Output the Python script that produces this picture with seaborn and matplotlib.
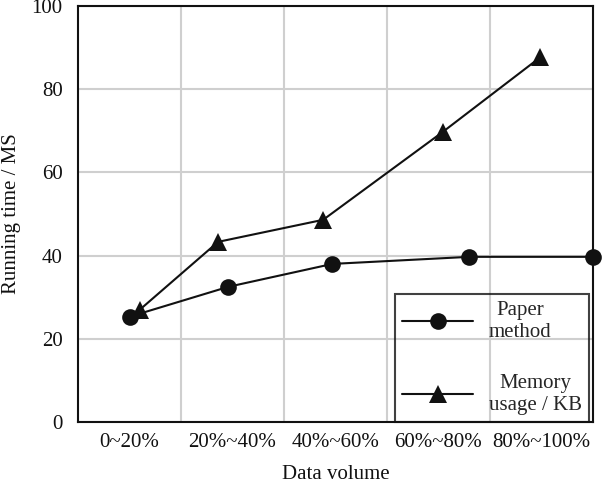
import numpy as np
import pandas as pd
import matplotlib
matplotlib.use("Agg")
import matplotlib.pyplot as plt
import seaborn as sns

# --- Data ---
categories = ["0~20%", "20%~40%", "40%~60%", "60%~80%", "80%~100%"]
paper_x = [0.50, 1.46, 2.47, 3.80, 5.00]
paper_y = [25.3, 32.5, 38.0, 39.7, 39.7]
memory_x = [0.60, 1.36, 2.38, 3.54, 4.49]
memory_y = [27.0, 43.3, 48.6, 69.7, 87.7]

sns.set_theme(style="white")
plt.rcParams["font.family"] = ["Liberation Serif", "DejaVu Serif"]

fig = plt.figure(figsize=(6.11, 4.86), dpi=100)
ax = fig.add_axes([0.1277, 0.1317, 0.8428, 0.856])

paper = pd.DataFrame({"x": paper_x, "y": paper_y})
memory = pd.DataFrame({"x": memory_x, "y": memory_y})

sns.lineplot(data=paper, x="x", y="y", ax=ax, color="#111111", marker="o",
             markersize=12, linewidth=1.5, markeredgewidth=0,
             label="Paper\nmethod", clip_on=False, zorder=5)
sns.lineplot(data=memory, x="x", y="y", ax=ax, color="#111111", marker="^",
             markersize=13, linewidth=1.5, markeredgewidth=0,
             label="Memory\nusage / KB", clip_on=False, zorder=5)

ax.set_xlim(0, 5)
ax.set_ylim(0, 100)
ax.set_xticks(np.arange(len(categories)) + 0.5)
ax.set_xticklabels(categories)
ax.set_xticks(np.arange(1, len(categories)), minor=True)
ax.set_yticks([0, 20, 40, 60, 80, 100])
ax.tick_params(axis="both", which="both", length=0, labelsize=15, colors="#111111")
ax.tick_params(axis="x", pad=8)
ax.tick_params(axis="y", pad=11)

ax.grid(False)
ax.xaxis.grid(True, which="minor", color="#cfcfcf", linewidth=1.5)
ax.yaxis.grid(True, which="major", color="#cfcfcf", linewidth=1.5)
ax.set_axisbelow(True)

for s in ax.spines.values():
    s.set_color("#111111")
    s.set_linewidth(1.5)

ax.set_xlabel("Data volume", fontsize=15, color="#111111", labelpad=9)
ax.set_ylabel("Running time / MS", fontsize=15, color="#111111", labelpad=8)

leg = ax.legend(loc="lower right", bbox_to_anchor=(0.992, 0.0),
                borderaxespad=0, frameon=True, fancybox=False,
                facecolor="none", edgecolor="#111111", fontsize=15,
                handlelength=3.4, labelspacing=1.55, borderpad=0.35,
                handletextpad=0.75)
leg.get_frame().set_linewidth(1.5)
for t in leg.get_texts():
    t.set_multialignment("center")

fig.savefig("out.png", dpi=100)
